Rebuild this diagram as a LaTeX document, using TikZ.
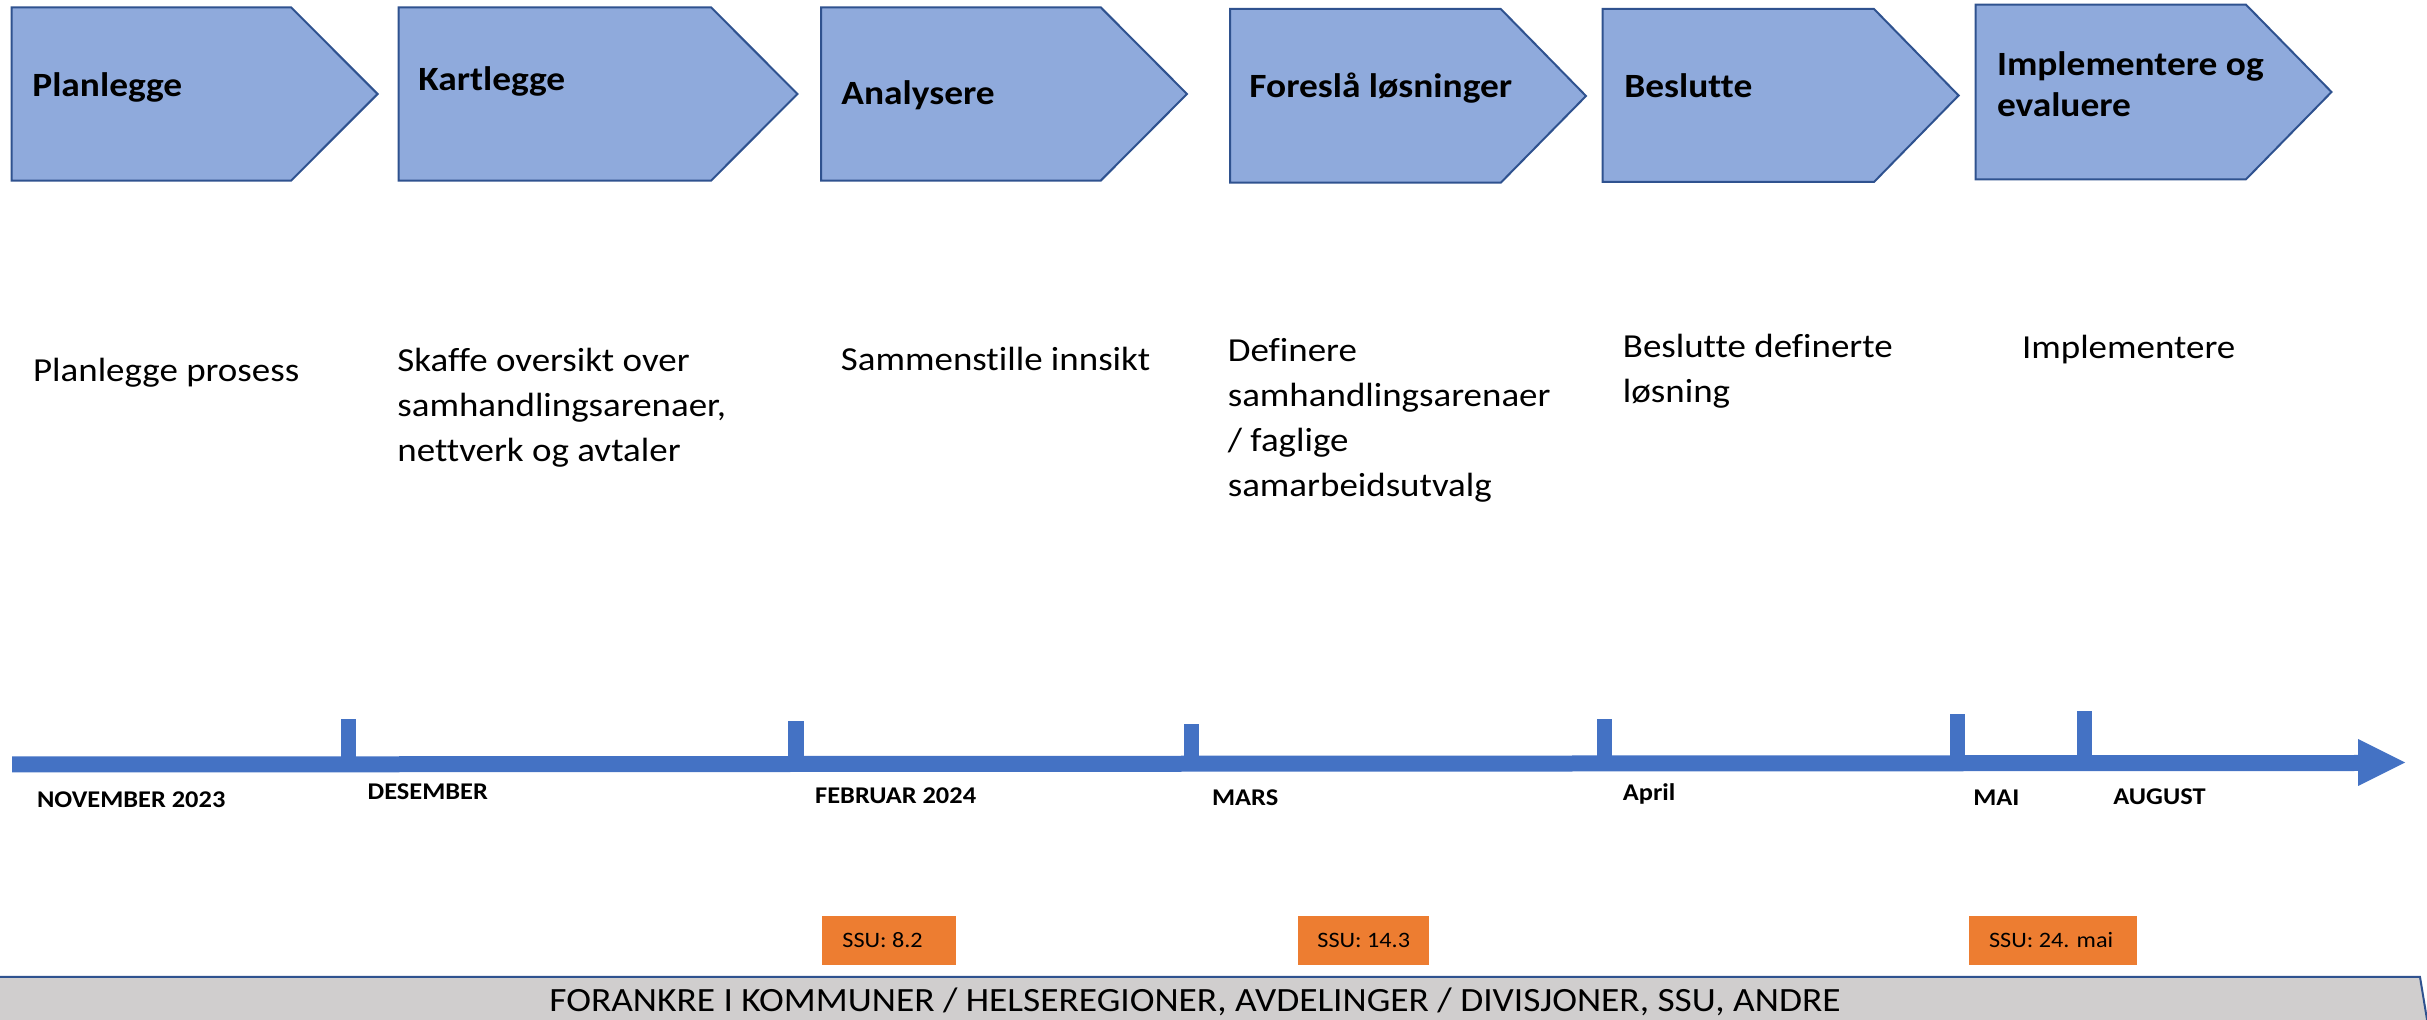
\documentclass[tikz,border=0pt]{standalone}
\usepackage{fontspec}
\setmainfont{Carlito}[FakeStretch=1.1, Ligatures=NoCommon]
\usepackage{tikz}

\definecolor{chevfill}{HTML}{8FAADC}
\definecolor{chevline}{HTML}{2F528F}
\definecolor{axisblue}{HTML}{4472C4}
\definecolor{ssuorange}{HTML}{ED7D31}
\definecolor{basegray}{HTML}{D0CECE}

\tikzset{
  chevron/.style={draw=chevline, fill=chevfill, line width=1pt},
  phasetitle/.style={anchor=base west, inner sep=0pt, align=left, font=\fontsize{17}{20.5}\selectfont\bfseries},
  phasetext/.style={anchor=base west, inner sep=0pt, align=left, font=\fontsize{16.8}{22.5}\selectfont},
  monthlabel/.style={anchor=base west, inner sep=0pt, font=\fontsize{12}{14}\selectfont\bfseries},
  ssutext/.style={anchor=base west, inner sep=0pt, font=\fontsize{11}{13}\selectfont},
  tick/.style={fill=axisblue},
}

\begin{document}
\begin{tikzpicture}[x=0.5pt,y=0.5pt,yscale=-1,xscale=1]
\useasboundingbox (0,0) rectangle (2427,1020);
\clip (0,0) rectangle (2427,1020);

%Shape: Chevron [Planlegge]
\draw [chevron] (11.5,7.3) -- (291,7.3) -- (377.6,94) -- (291,180.7) -- (11.5,180.7) -- cycle ;
%Shape: Chevron [Kartlegge]
\draw [chevron] (398.5,7.3) -- (711,7.3) -- (797.5,94) -- (711,180.7) -- (398.5,180.7) -- cycle ;
%Shape: Chevron [Analysere]
\draw [chevron] (821,7.3) -- (1100.7,7.3) -- (1187,94) -- (1100.7,180.7) -- (821,180.7) -- cycle ;
%Shape: Chevron [Foreslaa]
\draw [chevron] (1230,9) -- (1500.8,9) -- (1586,96) -- (1500.8,182.7) -- (1230,182.7) -- cycle ;
%Shape: Chevron [Beslutte]
\draw [chevron] (1602.6,9) -- (1874,9) -- (1958.6,95.5) -- (1874,182) -- (1602.6,182) -- cycle ;
%Shape: Chevron [Implementere]
\draw [chevron] (1975.5,4.7) -- (2246,4.7) -- (2331.5,92) -- (2246,179.3) -- (1975.5,179.3) -- cycle ;

% Text Node
\draw (32,97) node [phasetitle] (planlegge) {Planlegge};
% Text Node
\draw (418,90.7) node [phasetitle] (kartlegge) {Kartlegge};
% Text Node
\draw (841,105) node [phasetitle] (analysere) {Analysere};
% Text Node
\draw (1249,98) node [phasetitle] (foreslaa) {Foreslå løsninger};
% Text Node
\draw (1624,98) node [phasetitle] (beslutte) {Beslutte};
% Text Node (base = last line)
\draw (1996.6,117) node [phasetitle] (implementere) {Implementere og\\evaluere};

% Text Node
\draw (32.7,382) node [phasetext] (planleggetxt) {Planlegge prosess};
% Text Node (base = last line)
\draw (397,461.7) node [phasetext] (kartleggetxt) {Skaffe oversikt over\\samhandlingsarenaer,\\nettverk og avtaler};
% Text Node
\draw (840.5,371) node [phasetext] (analyseretxt) {Sammenstille innsikt};
% Text Node (base = last line)
\draw (1227.4,496.7) node [phasetext] (foreslaatxt) {Definere\\samhandlingsarenaer\\/ faglige\\samarbeidsutvalg};
% Text Node (base = last line)
\draw (1622.5,403) node [phasetext] (beslutetxt) {Beslutte definerte\\løsning};
% Text Node
\draw (2021.6,359) node [phasetext] (implementeretxt) {Implementere};

%Shape: Timeline arrow
\fill [axisblue] (12,756.5) -- (2358,755) -- (2358,739) -- (2405,762.5) -- (2358,786) -- (2358,771) -- (12,772.5) -- cycle ;
%Shape: Rectangle
\fill [tick] (341,719) rectangle (356.4,757) ;
%Shape: Rectangle
\fill [tick] (788,721.3) rectangle (804,757) ;
%Shape: Rectangle
\fill [tick] (1184,724) rectangle (1199,757) ;
%Shape: Rectangle
\fill [tick] (1596.7,719) rectangle (1612.4,756) ;
%Shape: Rectangle
\fill [tick] (1949.6,713.7) rectangle (1965,756) ;
%Shape: Rectangle
\fill [tick] (2077,711) rectangle (2092,756) ;

% Text Node
\draw (36.6,807.3) node [monthlabel] (nov) {NOVEMBER 2023};
% Text Node
\draw (367.3,800) node [monthlabel] (des) {DESEMBER};
% Text Node
\draw (814.8,803.3) node [monthlabel] (feb) {FEBRUAR 2024};
% Text Node
\draw (1211.7,806) node [monthlabel] (mar) {MARS};
% Text Node
\draw (1622.5,801) node [monthlabel] (apr) {April};
% Text Node
\draw (1973,806) node [monthlabel] (mai) {MAI};
% Text Node
\draw (2113,805) node [monthlabel] (aug) {AUGUST};

%Shape: Rectangle
\fill [ssuorange] (821.8,916) rectangle (955.6,964.7) ;
%Shape: Rectangle
\fill [ssuorange] (1297.8,916) rectangle (1429.3,964.7) ;
%Shape: Rectangle
\fill [ssuorange] (1969,916) rectangle (2136.6,964.7) ;
% Text Node
\draw (842,948) node [ssutext] (ssufeb) {SSU: 8.2};
% Text Node
\draw (1317,948) node [ssutext] (ssumar) {SSU: 14.3};
% Text Node
\draw (1988.7,948) node [ssutext] (ssumai) {SSU: 24. mai};

%Shape: Base bar
\draw [draw=chevline, fill=basegray, line width=1pt] (-5,977) -- (2420,977) -- (2432,1050) -- (-5,1050) -- cycle ;
% Text Node
\draw (1195,1012) node [anchor=base, inner sep=0pt, font=\fontsize{17}{20}\selectfont] (forankre) {FORANKRE I KOMMUNER / HELSEREGIONER, AVDELINGER / DIVISJONER, SSU, ANDRE};

\end{tikzpicture}
\end{document}
